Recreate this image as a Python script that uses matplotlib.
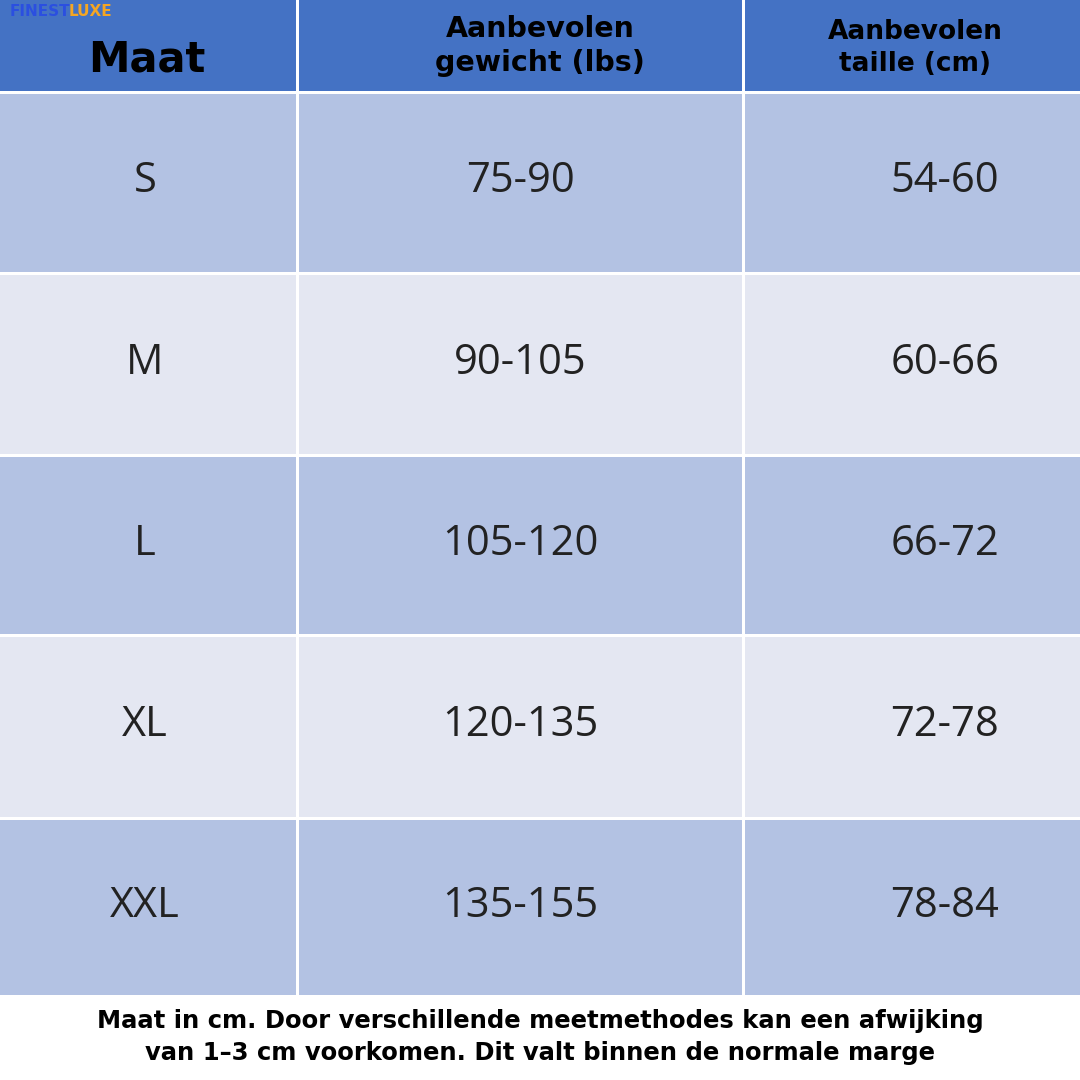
import matplotlib
matplotlib.use("Agg")
import matplotlib.pyplot as plt
from matplotlib.patches import Rectangle

headers = ["Maat", "Aanbevolen\ngewicht (lbs)", "Aanbevolen\ntaille (cm)"]
sizes = ["S", "M", "L", "XL", "XXL"]
weights = ["75-90", "90-105", "105-120", "120-135", "135-155"]
waist = ["54-60", "60-66", "66-72", "72-78", "78-84"]
footer = "Maat in cm. Door verschillende meetmethodes kan een afwijking\nvan 1–3 cm voorkomen. Dit valt binnen de normale marge"

col_edges = [0, 296, 742, 1080]
row_edges = [0, 91, 272, 454, 634, 817, 995]
gap = 3
header_color = "#4472C4"
row_colors = ["#B3C2E3", "#E4E7F2"]
col_centers_x = [145, 520, 945]

fig = plt.figure(figsize=(10.8, 10.8), dpi=100)
ax = fig.add_axes([0, 0, 1, 1])
ax.set_xlim(0, 1080)
ax.set_ylim(1080, 0)
ax.axis("off")

for r in range(len(row_edges) - 1):
    y0, y1 = row_edges[r], row_edges[r + 1]
    color = header_color if r == 0 else row_colors[(r - 1) % 2]
    for c in range(3):
        x0, x1 = col_edges[c], col_edges[c + 1]
        ax.add_patch(Rectangle((x0 + (gap if c else 0), y0 + (gap if r else 0)),
                               x1 - x0 - (gap if c else 0), y1 - y0 - (gap if r else 0),
                               facecolor=color, edgecolor="none"))

ax.text(147, 60, headers[0], ha="center", va="center", fontsize=30, fontweight="bold", color="black")
ax.text(540, 46, headers[1], ha="center", va="center", fontsize=20.5, fontweight="bold", color="black", linespacing=1.25)
ax.text(915, 48, headers[2], ha="center", va="center", fontsize=19, fontweight="bold", color="black", linespacing=1.3)
ax.text(10, 11, "FINEST", ha="left", va="center", fontsize=11, fontweight="bold", color="#2B4FE0")
ax.text(69, 11, "LUXE", ha="left", va="center", fontsize=11, fontweight="bold", color="#F5A623")

for i in range(len(sizes)):
    yc = (row_edges[i + 1] + row_edges[i + 2]) / 2
    for c, vals in enumerate([sizes, weights, waist]):
        ax.text(col_centers_x[c], yc, vals[i], ha="center", va="center", fontsize=30,
                family="Open Sans", color="#222222")

ax.text(540, 1037, footer, ha="center", va="center", fontsize=17.5, fontweight="bold", color="black", linespacing=1.4)

fig.savefig("out.png", dpi=100, facecolor="white")
